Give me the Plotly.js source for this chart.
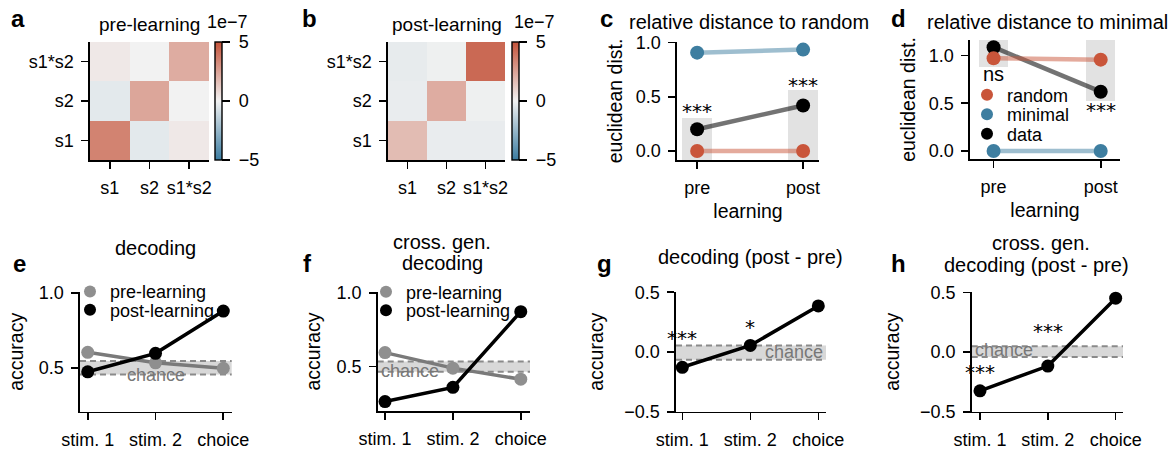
<!DOCTYPE html>
<html>
<head>
<meta charset="utf-8">
<script src="https://cdn.plot.ly/plotly-3.0.1.min.js"></script>
<style>
  html, body { margin: 0; padding: 0; background: #fff; }
  #fig { width: 1173px; height: 450px; }
</style>
</head>
<body>
<div id="fig"></div>
<script>
// ---------- data ----------
// regression weight similarity matrices (units of 1e-7), rows bottom -> top
const matLabels = ['s1', 's2', 's1*s2'];
const preMatrix = [
  [3.5, -0.4, 0.3],
  [-0.4, 2.4, 0.0],
  [0.3, 0.0, 2.2]
];
const postMatrix = [
  [1.7, -0.25, -0.25],
  [-0.25, 2.2, -0.1],
  [-0.3, -0.1, 4.3]
];
const cbarTicks = [-5, 0, 5];
const cbarText = ['\u00a0\u22125', '\u00a00', '\u00a05'];

// relative distances (pre / post learning)
const learnLabels = ['pre', 'post'];
const toRandomRandom = [0.0, 0.0];
const toRandomMinimal = [0.907, 0.935];
const toRandomData = [0.20, 0.42];
const toRandomNullLow = [-0.08, -0.08];
const toRandomNullHigh = [0.305, 0.565];
const toRandomStars = ['***', '***'];
const toRandomStarY = [0.37, 0.61];

const toMinimalRandom = [0.97, 0.955];
const toMinimalMinimal = [0.0, 0.0];
const toMinimalData = [1.085, 0.62];
const toMinimalNullLow = [0.88, 0.52];
const toMinimalNullHigh = [1.16, 1.16];
const toMinimalStars = ['ns', '***'];
const toMinimalStarY = [0.80, 0.43];

// decoding accuracies
const varLabels = ['stim. 1', 'stim. 2', 'choice'];
const decodePre = [0.603, 0.533, 0.496];
const decodePost = [0.473, 0.596, 0.878];
const decodeChance = [0.455, 0.545];

const crossPre = [0.595, 0.49, 0.415];
const crossPost = [0.264, 0.36, 0.872];
const crossChance = [0.465, 0.535];

const decodeDiff = [-0.128, 0.055, 0.386];
const decodeDiffChance = [-0.064, 0.055];
const decodeDiffStars = ['***', '*', '***'];
const decodeDiffStarY = [0.115, 0.21, 0.54];

const crossDiff = [-0.325, -0.117, 0.453];
const crossDiffChance = [-0.04, 0.05];
const crossDiffStars = ['***', '***', '***'];
const crossDiffStarY = [-0.17, 0.175, 0.58];

// ---------- styling ----------
const W = 1173, H = 450;
const px = v => v / W;
const py = v => 1 - v / H;
const FONT = 'Liberation Sans, Arial, sans-serif';
const RED = '#c9553a', RED_LINE = 'rgba(201,85,58,0.5)';
const BLUE = '#3e7ea0', BLUE_LINE = 'rgba(62,126,160,0.5)';
const GREY_PT = '#8f8f8f', GREY_LINE = '#7a7a7a';
const BAND = '#d8d8d8', BAND_EDGE = '#8a8a8a';
const TICK = { family: FONT, size: 18, color: '#000' };

const cmap = [
  [0, '#3b7ca1'], [0.5, '#f2f2f2'], [1, '#c4533a']
];

function baseAxis(extra) {
  return Object.assign({
    showline: true, linecolor: '#000', linewidth: 1.6,
    ticks: 'outside', ticklen: 7, tickwidth: 1.6, tickcolor: '#000',
    showgrid: false, zeroline: false, fixedrange: true,
    tickfont: TICK, ticklabelstandoff: 4
  }, extra);
}

const traces = [];

// heatmaps
function heat(z, xa, ya, cbx) {
  return {
    type: 'heatmap', z: z, x: matLabels, y: matLabels,
    xaxis: xa, yaxis: ya, zmin: -5, zmax: 5, colorscale: cmap,
    hoverinfo: 'skip',
    colorbar: {
      x: px(cbx), xanchor: 'left', xpad: 0, ypad: 0,
      y: py(101), yanchor: 'middle', len: 118, lenmode: 'pixels',
      thickness: 7, thicknessmode: 'pixels',
      outlinewidth: 1.4, outlinecolor: '#000',
      tickvals: cbarTicks, ticktext: cbarText,
      ticks: 'outside', ticklen: 8, tickwidth: 1.4, tickcolor: '#000',
      tickfont: TICK
    }
  };
}
traces.push(heat(preMatrix, 'x', 'y', 215));
traces.push(heat(postMatrix, 'x2', 'y2', 512));

// distance panels
function nullBars(lo, hi, xa, ya, w) {
  return {
    type: 'bar', x: learnLabels, base: lo, y: hi.map((h, i) => h - lo[i]),
    width: w, marker: { color: '#e2e2e2', line: { width: 0 } },
    xaxis: xa, yaxis: ya, showlegend: false, hoverinfo: 'skip'
  };
}
function distLine(vals, lineColor, xa, ya) {
  return {
    type: 'scatter', mode: 'lines', x: learnLabels, y: vals,
    line: { color: lineColor, width: 4.5 },
    xaxis: xa, yaxis: ya, showlegend: false, hoverinfo: 'skip', cliponaxis: false
  };
}
function pts(name, xs, vals, color, size, xa, ya, lg) {
  return {
    type: 'scatter', mode: 'markers', name: name, x: xs, y: vals,
    marker: { color: color, size: size },
    xaxis: xa, yaxis: ya, legend: lg || 'legend', showlegend: !!lg,
    hoverinfo: 'skip', cliponaxis: false
  };
}
traces.push(nullBars(toRandomNullLow, toRandomNullHigh, 'x3', 'y3', 0.28));
traces.push(distLine(toRandomMinimal, BLUE_LINE, 'x3', 'y3'));
traces.push(distLine(toRandomData, 'rgba(0,0,0,0.55)', 'x3', 'y3'));
traces.push(distLine(toRandomRandom, RED_LINE, 'x3', 'y3'));
traces.push(pts('minimal', learnLabels, toRandomMinimal, BLUE, 14, 'x3', 'y3'));
traces.push(pts('data', learnLabels, toRandomData, '#000', 14, 'x3', 'y3'));
traces.push(pts('random', learnLabels, toRandomRandom, RED, 14, 'x3', 'y3'));

traces.push(nullBars(toMinimalNullLow, toMinimalNullHigh, 'x4', 'y4', 0.27));
traces.push(distLine(toMinimalMinimal, BLUE_LINE, 'x4', 'y4'));
traces.push(distLine(toMinimalData, 'rgba(0,0,0,0.55)', 'x4', 'y4'));
traces.push(distLine(toMinimalRandom, RED_LINE, 'x4', 'y4'));
// each legend entry sits in its own legend box so the rows can be spaced tightly
traces.push(pts('data', learnLabels, toMinimalData, '#000', 14, 'x4', 'y4', 'legend3'));
traces.push(pts('minimal', learnLabels, toMinimalMinimal, BLUE, 14, 'x4', 'y4', 'legend2'));
traces.push(pts('random', learnLabels, toMinimalRandom, RED, 14, 'x4', 'y4', 'legend'));

// decoding panels
function accLine(vals, lineColor, xa, ya) {
  return {
    type: 'scatter', mode: 'lines', x: varLabels, y: vals,
    line: { color: lineColor, width: 3.5 },
    xaxis: xa, yaxis: ya, showlegend: false, hoverinfo: 'skip', cliponaxis: false
  };
}
traces.push(accLine(decodePre, GREY_LINE, 'x5', 'y5'));
traces.push(pts('pre-learning', varLabels, decodePre, GREY_PT, 13, 'x5', 'y5', 'legend4'));
traces.push(accLine(decodePost, '#000', 'x5', 'y5'));
traces.push(pts('post-learning', varLabels, decodePost, '#000', 13, 'x5', 'y5', 'legend5'));

traces.push(accLine(crossPre, GREY_LINE, 'x6', 'y6'));
traces.push(pts('pre-learning', varLabels, crossPre, GREY_PT, 13, 'x6', 'y6', 'legend6'));
traces.push(accLine(crossPost, '#000', 'x6', 'y6'));
traces.push(pts('post-learning', varLabels, crossPost, '#000', 13, 'x6', 'y6', 'legend7'));

traces.push(accLine(decodeDiff, '#000', 'x7', 'y7'));
traces.push(pts('post - pre', varLabels, decodeDiff, '#000', 13, 'x7', 'y7'));
traces.push(accLine(crossDiff, '#000', 'x8', 'y8'));
traces.push(pts('post - pre', varLabels, crossDiff, '#000', 13, 'x8', 'y8'));

// ---------- layout ----------
const topRow = [py(160), py(42)];
const heatAxisX = (d, anchor) => baseAxis({ domain: d, type: 'category', range: [-0.5, 2.5], anchor: anchor });
const heatAxisY = (d, anchor) => baseAxis({ domain: d, type: 'category', range: [-0.5, 2.5], anchor: anchor });

function legendBox(xp, yp) {
  return {
    x: px(xp), y: py(yp), xanchor: 'left', yanchor: 'middle',
    bgcolor: 'rgba(0,0,0,0)', borderwidth: 0, itemsizing: 'constant',
    font: { family: FONT, size: 18, color: '#000' },
    itemclick: false, itemdoubleclick: false
  };
}

function chanceShapes(ch, xa, ya) {
  return [
    { type: 'rect', xref: xa + ' domain', yref: ya, x0: 0, x1: 1, y0: ch[0], y1: ch[1],
      fillcolor: BAND, line: { width: 0 }, layer: 'below' },
    { type: 'line', xref: xa + ' domain', yref: ya, x0: 0, x1: 1, y0: ch[0], y1: ch[0],
      line: { color: BAND_EDGE, width: 2, dash: '6px,4px' }, layer: 'below' },
    { type: 'line', xref: xa + ' domain', yref: ya, x0: 0, x1: 1, y0: ch[1], y1: ch[1],
      line: { color: BAND_EDGE, width: 2, dash: '6px,4px' }, layer: 'below' }
  ];
}

const ann = [];
function txt(text, x, y, size, opts) {
  ann.push(Object.assign({
    text: text, x: px(x), y: py(y), xref: 'paper', yref: 'paper',
    xanchor: 'center', yanchor: 'middle', showarrow: false,
    font: { family: FONT, size: size, color: '#000' }
  }, opts || {}));
}
// panel letters
const LETTER = { family: 'Liberation Sans Narrow, Liberation Sans, Arial, sans-serif', size: 24, color: '#000', weight: 'bold' };
[['a', 18, 18], ['b', 309, 18], ['c', 606, 18], ['d', 898, 18],
 ['e', 19, 263], ['f', 307, 263], ['g', 604, 263], ['h', 898, 263]].forEach(l => {
  ann.push({ text: '<b>' + l[0] + '</b>', x: px(l[1]), y: py(l[2]), xref: 'paper', yref: 'paper',
    xanchor: 'center', yanchor: 'middle', showarrow: false, font: LETTER });
});
// panel titles
txt('pre-learning', 149, 24, 19);
txt('1e\u22127', 205, 22, 18, { xanchor: 'left' });
txt('post-learning', 446.5, 24, 19);
txt('1e\u22127', 512, 22, 18, { xanchor: 'left' });
txt('relative distance to random', 749, 22, 20);
txt('relative distance to minimal', 1047, 22, 20);
txt('decoding', 155, 248, 20);
txt('cross. gen.', 442, 241.7, 20);
txt('decoding', 442, 263.3, 20);
txt('decoding (post - pre)', 750, 256.7, 20);
txt('cross. gen.', 1041, 243, 20);
txt('decoding (post - pre)', 1036, 265, 20);

// significance marks in data coordinates
const STAR = { family: 'DejaVu Sans, sans-serif', size: 20, color: '#000' };
function stars(labels, xs, ys, xa, ya) {
  labels.forEach((s, i) => ann.push({
    text: s, x: xs[i], y: ys[i], xref: xa, yref: ya, showarrow: false,
    xanchor: 'center', yanchor: 'middle',
    font: s === 'ns' ? { family: FONT, size: 20, color: '#000' } : STAR
  }));
}
stars(toRandomStars, learnLabels, toRandomStarY, 'x3', 'y3');
stars(toMinimalStars, learnLabels, toMinimalStarY, 'x4', 'y4');
stars(decodeDiffStars, varLabels, decodeDiffStarY, 'x7', 'y7');
stars(crossDiffStars, varLabels, crossDiffStarY, 'x8', 'y8');

// chance labels
const CH = { family: FONT, size: 18, color: '#777' };
ann.push({ text: 'chance', x: 1, y: decodeChance[0], xref: 'x5', yref: 'y5', showarrow: false,
  xanchor: 'center', yanchor: 'middle', font: CH });
ann.push({ text: 'chance', x: 0.01, y: crossChance[0] + 0.005, xref: 'x6 domain', yref: 'y6', showarrow: false,
  xanchor: 'left', yanchor: 'middle', font: CH });
ann.push({ text: 'chance', x: 0.99, y: 0, xref: 'x7 domain', yref: 'y7', showarrow: false,
  xanchor: 'right', yanchor: 'middle', font: CH });
ann.push({ text: 'chance', x: 0.01, y: 0.02, xref: 'x8 domain', yref: 'y8', showarrow: false,
  xanchor: 'left', yanchor: 'middle', font: CH });

const TITLE_FONT = { family: FONT, size: 19.5, color: '#000' };

const layout = {
  width: W, height: H,
  margin: { l: 0, r: 0, t: 0, b: 0 },
  paper_bgcolor: '#fff', plot_bgcolor: 'rgba(0,0,0,0)',
  font: { family: FONT, color: '#000' },
  bargap: 0,
  xaxis: heatAxisX([px(90), px(209)], 'y'),
  yaxis: heatAxisY(topRow, 'x'),
  xaxis2: heatAxisX([px(388), px(505)], 'y2'),
  yaxis2: heatAxisY(topRow, 'x2'),
  xaxis3: baseAxis({ domain: [px(677), px(819)], type: 'category', range: [-0.19, 1.15], anchor: 'y3',
    title: { text: 'learning', font: TITLE_FONT, standoff: 7 } }),
  yaxis3: baseAxis({ domain: [py(160), py(42)], range: [-0.083, 1.005], anchor: 'x3',
    tickvals: [0, 0.5, 1], tickformat: '.1f',
    title: { text: 'euclidean dist.', font: TITLE_FONT, standoff: 8 } }),
  xaxis4: baseAxis({ domain: [px(970), px(1120)], type: 'category', range: [-0.22, 1.18], anchor: 'y4',
    title: { text: 'learning', font: TITLE_FONT, standoff: 7 } }),
  yaxis4: baseAxis({ domain: [py(159), py(40)], range: [-0.083, 1.16], anchor: 'x4',
    tickvals: [0, 0.5, 1], tickformat: '.1f',
    title: { text: 'euclidean dist.', font: TITLE_FONT, standoff: 8 } }),
  xaxis5: baseAxis({ domain: [px(80), px(231.7)], type: 'category', range: [-0.114, 2.124], anchor: 'y5' }),
  yaxis5: baseAxis({ domain: [py(411.7), py(292)], range: [0.207, 1.005], anchor: 'x5',
    tickvals: [0.5, 1], tickformat: '.1f',
    title: { text: 'accuracy', font: TITLE_FONT, standoff: 10 } }),
  xaxis6: baseAxis({ domain: [px(377.7), px(530)], type: 'category', range: [-0.108, 2.136], anchor: 'y6' }),
  yaxis6: baseAxis({ domain: [py(411), py(292)], range: [0.2, 1.005], anchor: 'x6',
    tickvals: [0.5, 1], tickformat: '.1f',
    title: { text: 'accuracy', font: TITLE_FONT, standoff: 10 } }),
  xaxis7: baseAxis({ domain: [px(676), px(826)], type: 'category', range: [-0.093, 2.113], anchor: 'y7' }),
  yaxis7: baseAxis({ domain: [py(411.7), py(291.7)], range: [-0.5, 0.505], anchor: 'x7',
    tickvals: [-0.5, 0, 0.5], tickformat: '.1f',
    title: { text: 'accuracy', font: TITLE_FONT, standoff: 15 } }),
  xaxis8: baseAxis({ domain: [px(971.7), px(1123)], type: 'category', range: [-0.122, 2.108], anchor: 'y8' }),
  yaxis8: baseAxis({ domain: [py(411.7), py(292)], range: [-0.5, 0.505], anchor: 'x8',
    tickvals: [-0.5, 0, 0.5], tickformat: '.1f',
    title: { text: 'accuracy', font: TITLE_FONT, standoff: 15 } }),
  legend: legendBox(967, 95),
  legend2: legendBox(967, 114.5),
  legend3: legendBox(967, 134),
  legend4: legendBox(70, 291.7),
  legend5: legendBox(70, 310),
  legend6: legendBox(366, 292),
  legend7: legendBox(366, 310.5),
  shapes: [].concat(
    chanceShapes(decodeChance, 'x5', 'y5'),
    chanceShapes(crossChance, 'x6', 'y6'),
    chanceShapes(decodeDiffChance, 'x7', 'y7'),
    chanceShapes(crossDiffChance, 'x8', 'y8')
  ),
  annotations: ann,
  showlegend: true
};

Plotly.newPlot('fig', traces, layout, { staticPlot: true, displayModeBar: false });
</script>
</body>
</html>
